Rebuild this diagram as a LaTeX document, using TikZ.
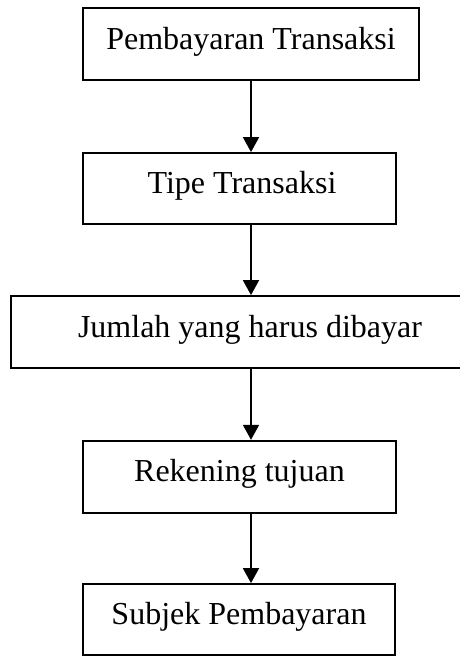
\documentclass[tikz,border=0pt]{standalone}
\usepackage{fontspec}
\setmainfont{Liberation Serif}
\usetikzlibrary{arrows.meta}

\begin{document}
\begin{tikzpicture}[x=1pt,y=-1pt,
  stepbox/.style={draw=black, line width=1.8pt, rectangle, inner sep=0pt,
    font=\fontsize{32}{38}\selectfont, text height=21pt, text depth=11pt},
  flow/.style={line width=1.8pt, -{Triangle[width=16pt,length=15pt]}}]
  \useasboundingbox (0,0) rectangle (460,656);
  \clip (0,0) rectangle (460,656);

  % payment flow, top to bottom
  \node[stepbox, minimum width=336pt, minimum height=72pt] (b1) at (251,44) {Pembayaran Transaksi};
  \node[stepbox, minimum width=313pt, minimum height=71pt] (b2) at (239.5,188.5) {\hspace*{5pt}Tipe Transaksi};
  \node[stepbox, minimum width=455pt, minimum height=72pt] (b3) at (238.5,332) {\hspace*{23pt}Jumlah yang harus dibayar};
  \node[stepbox, minimum width=313pt, minimum height=72pt] (b4) at (239.5,476.7) {Rekening tujuan};
  \node[stepbox, minimum width=312pt, minimum height=71pt] (b5) at (239,619.5) {Subjek Pembayaran};

  % arrows run down a common vertical axis
  \coordinate (axis) at (251,0);
  \draw[flow] (b1.south -| axis) -- (b2.north -| axis);
  \draw[flow] (b2.south -| axis) -- (b3.north -| axis);
  \draw[flow] (b3.south -| axis) -- (b4.north -| axis);
  \draw[flow] (b4.south -| axis) -- (b5.north -| axis);
\end{tikzpicture}
\end{document}
